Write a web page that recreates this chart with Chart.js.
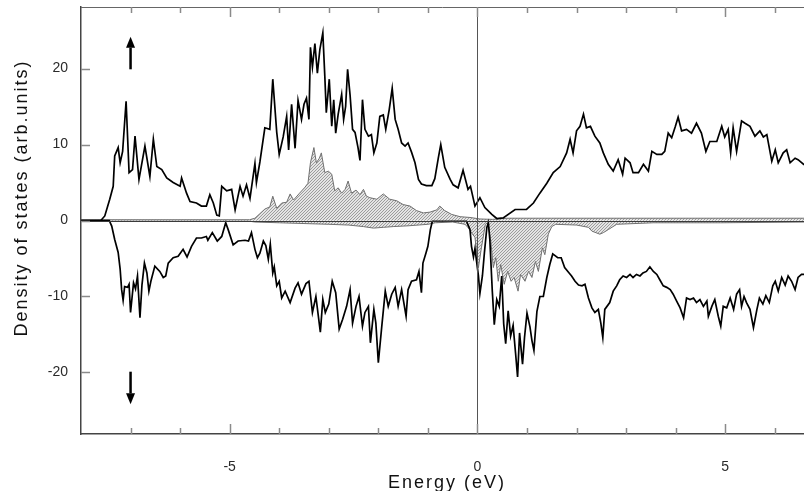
<!DOCTYPE html>
<html>
<head>
<meta charset="utf-8">
<title>Density of states</title>
<script src="https://cdn.jsdelivr.net/npm/chart.js@4.4.1/dist/chart.umd.min.js"></script>
<style>
    html, body { margin: 0; padding: 0; background: #ffffff; }
    canvas { display: block; }
</style>
</head>
<body>
<canvas id="dos" width="804" height="491"></canvas>
<script>
// Total DOS, spin up (energy in eV, states in arb. units)
const upE = [-8.00, -7.60, -7.52, -7.42, -7.35, -7.32, -7.25, -7.21, -7.16, -7.09, -7.03, -6.96, -6.91, -6.83, -6.71, -6.61,
    -6.54, -6.47, -6.37, -6.27, -6.14, -6.00, -5.97, -5.87, -5.80, -5.67, -5.57, -5.47, -5.40, -5.33, -5.26, -5.21,
    -5.16, -5.06, -4.96, -4.89, -4.79, -4.73, -4.66, -4.59, -4.49, -4.46, -4.39, -4.29, -4.19, -4.13, -4.05, -4.00,
    -3.92, -3.85, -3.81, -3.75, -3.68, -3.62, -3.55, -3.50, -3.45, -3.40, -3.37, -3.33, -3.28, -3.23, -3.18, -3.12,
    -3.08, -3.05, -2.99, -2.94, -2.90, -2.86, -2.81, -2.74, -2.70, -2.66, -2.62, -2.57, -2.52, -2.47, -2.41, -2.37,
    -2.32, -2.27, -2.20, -2.14, -2.09, -2.03, -1.97, -1.90, -1.85, -1.78, -1.72, -1.66, -1.60, -1.53, -1.46, -1.40,
    -1.33, -1.26, -1.19, -1.13, -1.03, -0.92, -0.86, -0.79, -0.74, -0.66, -0.55, -0.49, -0.39, -0.29, -0.19, -0.14,
    -0.05, 0.05, 0.15, 0.29, 0.39, 0.52, 0.76, 0.99, 1.13, 1.26, 1.40, 1.53, 1.67, 1.80, 1.87, 1.93,
    2.00, 2.07, 2.14, 2.20, 2.28, 2.37, 2.47, 2.54, 2.64, 2.74, 2.84, 2.93, 2.98, 3.08, 3.14, 3.25,
    3.35, 3.45, 3.52, 3.62, 3.72, 3.78, 3.85, 3.92, 3.99, 4.05, 4.12, 4.22, 4.32, 4.42, 4.52, 4.61,
    4.69, 4.83, 4.93, 4.99, 5.06, 5.11, 5.16, 5.23, 5.33, 5.40, 5.50, 5.60, 5.70, 5.77, 5.84, 5.94,
    6.01, 6.07, 6.17, 6.24, 6.31, 6.41, 6.47, 6.58, 6.62];
const upDos = [0, 0, 0.6, 2.8, 4.5, 8.5, 9.6, 7.6, 9.1, 15.7, 6.3, 6.7, 11.1, 5.4, 9.8, 5.8,
    10.7, 7.1, 6.7, 5.6, 5.0, 4.5, 5.6, 3.6, 2.5, 2.3, 1.9, 1.9, 3.4, 2.3, 0.7, 0.6,
    4.5, 3.9, 4.1, 1.4, 4.5, 3.2, 4.7, 2.9, 7.5, 5.0, 7.7, 12.2, 12.0, 18.6, 11.6, 8.7,
    11.0, 13.7, 9.3, 15.3, 9.5, 15.8, 13.3, 15.3, 16.1, 13.3, 22.8, 20.2, 23.3, 19.4, 22.5, 24.7,
    19.0, 14.2, 18.6, 12.4, 15.9, 11.5, 14.0, 16.6, 13.3, 15.0, 19.9, 16.5, 12.0, 11.6, 9.6, 7.9,
    15.9, 12.0, 11.1, 11.3, 8.9, 10.2, 13.7, 13.9, 12.0, 14.6, 17.4, 13.3, 12.0, 10.2, 9.8, 10.2,
    9.0, 7.6, 5.4, 4.8, 4.6, 4.6, 5.5, 8.2, 10.0, 7.0, 5.4, 4.7, 4.3, 6.6, 4.1, 4.5,
    1.9, 3.0, 1.7, 0.8, 0.26, 0.35, 1.45, 1.45, 2.3, 3.6, 4.9, 6.3, 7.1, 8.9, 10.7, 8.9,
    11.8, 12.4, 14.0, 12.2, 12.4, 11.1, 10.2, 8.9, 7.4, 6.5, 8.0, 6.1, 8.2, 7.6, 6.3, 6.3,
    7.4, 6.5, 9.1, 8.7, 8.7, 9.1, 11.5, 10.9, 12.3, 13.6, 11.8, 12.0, 11.5, 12.8, 11.5, 9.1,
    10.4, 10.4, 12.4, 11.0, 12.0, 8.9, 12.2, 9.1, 13.1, 12.8, 12.4, 11.1, 11.8, 11.0, 11.3, 7.8,
    9.3, 7.6, 8.9, 9.3, 7.6, 8.2, 8.0, 7.4, 7.3];

// Total DOS, spin down
const dnE = [-8.00, -7.43, -7.38, -7.32, -7.25, -7.21, -7.18, -7.15, -7.12, -7.06, -7.03, -7.00, -6.94, -6.90, -6.86, -6.81,
    -6.77, -6.72, -6.67, -6.63, -6.59, -6.51, -6.41, -6.34, -6.29, -6.24, -6.14, -6.04, -5.94, -5.86, -5.77, -5.67,
    -5.57, -5.47, -5.44, -5.35, -5.25, -5.16, -5.08, -5.03, -4.93, -4.83, -4.69, -4.62, -4.56, -4.49, -4.44, -4.39,
    -4.32, -4.27, -4.22, -4.18, -4.13, -4.10, -4.05, -4.00, -3.95, -3.88, -3.78, -3.68, -3.62, -3.55, -3.46, -3.40,
    -3.33, -3.26, -3.17, -3.12, -3.07, -3.00, -2.93, -2.86, -2.79, -2.72, -2.64, -2.57, -2.52, -2.45, -2.39, -2.32,
    -2.27, -2.20, -2.16, -2.09, -2.05, -2.00, -1.93, -1.86, -1.80, -1.73, -1.66, -1.60, -1.53, -1.44, -1.40, -1.33,
    -1.23, -1.18, -1.13, -1.10, -1.04, -1.00, -0.95, -0.91, -0.85, -0.22, -0.15, -0.12, -0.08, -0.05, 0.02, 0.05,
    0.10, 0.14, 0.19, 0.22, 0.25, 0.30, 0.34, 0.39, 0.44, 0.49, 0.53, 0.57, 0.62, 0.67, 0.72, 0.77,
    0.81, 0.85, 0.91, 0.95, 1.00, 1.06, 1.10, 1.14, 1.20, 1.26, 1.33, 1.40, 1.46, 1.52, 1.62, 1.69,
    1.76, 1.85, 1.90, 1.97, 2.04, 2.11, 2.17, 2.24, 2.31, 2.37, 2.44, 2.49, 2.53, 2.57, 2.67, 2.74,
    2.81, 2.87, 2.94, 3.01, 3.08, 3.14, 3.21, 3.28, 3.34, 3.41, 3.48, 3.55, 3.62, 3.68, 3.75, 3.82,
    3.89, 3.95, 4.02, 4.09, 4.16, 4.22, 4.29, 4.36, 4.42, 4.49, 4.56, 4.63, 4.66, 4.73, 4.79, 4.86,
    4.91, 4.96, 5.03, 5.10, 5.17, 5.23, 5.29, 5.33, 5.38, 5.43, 5.50, 5.57, 5.64, 5.69, 5.76, 5.82,
    5.89, 5.96, 6.01, 6.07, 6.14, 6.21, 6.27, 6.34, 6.41, 6.47, 6.54, 6.62];
const dnDos = [0, 0, -0.74, -2.5, -4.2, -6.4, -9.1, -10.5, -8.7, -8.8, -8.4, -12.1, -8.2, -9.0, -7.3, -12.8,
    -8.5, -5.6, -6.9, -9.3, -8.0, -6.0, -6.7, -7.5, -7.3, -5.6, -4.9, -4.7, -3.8, -4.8, -3.4, -2.3,
    -2.3, -2.1, -2.6, -1.6, -2.7, -2.1, -0.3, -1.2, -3.2, -2.7, -2.6, -2.7, -1.6, -3.8, -4.9, -4.3,
    -2.7, -3.3, -5.1, -3.1, -6.9, -6.1, -8.6, -8.0, -10.2, -9.3, -10.8, -8.9, -8.2, -9.7, -8.3, -8.0,
    -12.1, -10.0, -14.7, -10.4, -12.1, -11.0, -8.0, -9.5, -14.3, -13.0, -11.3, -9.1, -13.5, -11.3, -10.0, -13.9,
    -12.1, -11.3, -16.1, -11.7, -13.5, -18.7, -13.9, -9.3, -11.3, -9.7, -8.8, -11.3, -9.1, -12.6, -9.1, -8.0,
    -7.8, -6.7, -9.5, -5.6, -4.3, -3.4, -1.2, -0.1, -0.1, -0.1, -1.2, -3.4, -4.8, -3.7, -7.3, -9.6,
    -7.3, -4.3, -0.9, -0.3, -2.5, -9.3, -13.7, -10.4, -11.3, -7.3, -13.6, -16.2, -11.9, -15.2, -13.8, -17.5,
    -20.6, -14.8, -18.9, -15.4, -12.2, -14.0, -15.8, -17.1, -12.0, -10.0, -10.0, -7.5, -5.8, -4.4, -4.9, -4.9,
    -6.2, -6.9, -7.3, -8.0, -8.5, -8.6, -8.4, -10.2, -11.5, -12.1, -11.7, -13.5, -15.4, -11.7, -10.8, -9.3,
    -8.6, -7.8, -7.3, -7.5, -7.1, -7.5, -7.1, -7.3, -6.9, -6.7, -6.1, -6.7, -7.1, -7.8, -8.6, -8.8,
    -9.1, -9.7, -10.6, -11.5, -12.8, -10.2, -10.4, -10.2, -10.8, -10.4, -11.3, -10.6, -12.6, -11.3, -10.4, -12.6,
    -13.9, -11.3, -11.5, -10.2, -11.7, -9.7, -9.1, -11.3, -10.0, -10.8, -11.7, -14.1, -11.7, -10.2, -11.0, -9.9,
    -10.8, -8.6, -8.0, -9.3, -7.5, -8.5, -7.3, -8.0, -9.1, -7.5, -7.1, -7.1];

// Partial DOS (shaded), spin up
const pUpE = [-8.00, -4.60, -4.49, -4.39, -4.29, -4.19, -4.13, -4.05, -3.95, -3.85, -3.78, -3.71, -3.59, -3.49, -3.42, -3.37,
    -3.30, -3.25, -3.19, -3.15, -3.08, -3.01, -2.94, -2.88, -2.81, -2.74, -2.67, -2.61, -2.54, -2.45, -2.37, -2.30,
    -2.24, -2.17, -2.03, -1.90, -1.77, -1.63, -1.50, -1.36, -1.23, -1.09, -0.96, -0.82, -0.76, -0.66, -0.52, -0.35,
    -0.15, 0.05, 0.30, 0.60, 1.50, 3.00, 6.62];
const pUpDos = [0.1, 0.1, 0.3, 0.9, 1.5, 1.8, 3.2, 1.6, 2.3, 2.4, 3.5, 2.7, 3.6, 4.3, 4.9, 7.6,
    9.6, 7.6, 8.2, 8.9, 6.3, 6.5, 6.1, 3.9, 4.3, 3.6, 4.1, 5.2, 3.6, 4.0, 3.4, 4.1,
    3.2, 3.0, 2.8, 3.5, 2.8, 2.6, 2.1, 1.9, 1.3, 1.0, 1.1, 1.4, 1.9, 1.3, 0.8, 0.5,
    0.4, 0.2, 0.15, 0.3, 0.3, 0.3, 0.3];

// Partial DOS (shaded), spin down
const pDnE = [-8.00, -4.60, -4.49, -4.00, -3.50, -3.00, -2.60, -2.30, -2.10, -1.90, -1.70, -1.40, -1.00, -0.85, -0.50, -0.25,
    -0.18, -0.10, -0.05, 0.02, 0.08, 0.16, 0.21, 0.27, 0.32, 0.37, 0.42, 0.47, 0.54, 0.61, 0.68, 0.74,
    0.82, 0.87, 0.96, 1.03, 1.10, 1.17, 1.23, 1.31, 1.36, 1.43, 1.50, 1.58, 2.00, 2.24, 2.31, 2.47,
    2.54, 2.64, 2.81, 3.55, 4.90, 6.62];
const pDnDos = [-0.1, -0.1, -0.2, -0.3, -0.4, -0.5, -0.6, -0.8, -1.0, -0.9, -0.8, -0.7, -0.5, -0.3, -0.2, -0.5,
    -1.0, -1.8, -2.2, -6.2, -3.6, -0.5, -0.3, -2.7, -6.2, -4.9, -8.0, -5.8, -8.4, -6.7, -8.0, -7.5,
    -9.3, -7.1, -8.0, -6.7, -7.5, -5.4, -6.7, -3.6, -4.5, -1.8, -0.8, -0.5, -0.6, -0.9, -1.4, -1.8,
    -1.6, -1.2, -0.5, -0.3, -0.3, -0.2];

// Axis ticks
const xTicks = [-5, 0, 5];
const xMinorTicks = [-7, -6, -4, -3, -2, -1, 1, 2, 3, 4, 6];
const yTicks = [-20, -10, 0, 10, 20];

// Spin arrows (energy, from, to)
const arrowE = -7;
const upArrow = [19.9, 24.2];
const downArrow = [-19.9, -24.2];

const FONT = '"Liberation Sans", Arial, Helvetica, sans-serif';

function toPoints(es, vs) {
    return es.map((e, i) => ({ x: e, y: vs[i] }));
}

/**
 * Light grey diagonal hatching used for the partial DOS
 */
function makeHatch(ctx) {
    const c = document.createElement('canvas');
    c.width = 3;
    c.height = 3;
    const g = c.getContext('2d');
    g.fillStyle = '#e4e4e4';
    g.fillRect(0, 0, 3, 3);
    g.fillStyle = '#9c9c9c';
    for (let i = 0; i < 3; i++) g.fillRect(i, 2 - i, 1, 1);
    return ctx.createPattern(c, 'repeat');
}

function drawArrow(ctx, px, yFrom, yTo) {
    const dir = yTo < yFrom ? -1 : 1;
    const head = 11;
    ctx.lineWidth = 2.5;
    ctx.beginPath();
    ctx.moveTo(px, yFrom);
    ctx.lineTo(px, yTo - dir * head);
    ctx.stroke();
    ctx.beginPath();
    ctx.moveTo(px, yTo);
    ctx.lineTo(px - 4.5, yTo - dir * head);
    ctx.lineTo(px + 4.5, yTo - dir * head);
    ctx.closePath();
    ctx.fill();
}

// Frame lines, inward ticks, spin arrows and axis titles
const decorPlugin = {
    id: 'decor',
    afterDatasetsDraw(chart) {
        const { ctx, chartArea: a, scales: { x, y } } = chart;
        ctx.save();

        // zero line
        const y0 = Math.round(y.getPixelForValue(0)) + 0.5;
        ctx.strokeStyle = '#3a3a3a';
        ctx.lineWidth = 1;
        ctx.beginPath();
        ctx.moveTo(a.left, y0);
        ctx.lineTo(a.right, y0);
        ctx.stroke();

        // Fermi level
        const xf = Math.round(x.getPixelForValue(0)) + 0.5;
        ctx.strokeStyle = '#555555';
        ctx.beginPath();
        ctx.moveTo(xf, a.top);
        ctx.lineTo(xf, a.bottom);
        ctx.stroke();

        // top frame
        ctx.strokeStyle = '#666666';
        ctx.beginPath();
        ctx.moveTo(a.left, a.top + 0.5);
        ctx.lineTo(a.right, a.top + 0.5);
        ctx.stroke();

        // ticks pointing inward
        ctx.strokeStyle = '#8a8a8a';
        ctx.lineWidth = 1.5;
        ctx.beginPath();
        yTicks.forEach(v => {
            const py = Math.round(y.getPixelForValue(v)) + 0.5;
            ctx.moveTo(a.left, py);
            ctx.lineTo(a.left + 9, py);
        });
        const xTickMarks = (vals, len) => vals.forEach(v => {
            const px = Math.round(x.getPixelForValue(v)) + 0.5;
            ctx.moveTo(px, a.bottom);
            ctx.lineTo(px, a.bottom - len);
            ctx.moveTo(px, a.top);
            ctx.lineTo(px, a.top + len);
        });
        xTickMarks(xTicks, 10);
        xTickMarks(xMinorTicks, 6);
        ctx.stroke();

        // spin arrows
        ctx.strokeStyle = '#000000';
        ctx.fillStyle = '#000000';
        const ax = x.getPixelForValue(arrowE);
        drawArrow(ctx, ax, y.getPixelForValue(upArrow[0]), y.getPixelForValue(upArrow[1]));
        drawArrow(ctx, ax, y.getPixelForValue(downArrow[0]), y.getPixelForValue(downArrow[1]));

        ctx.restore();
    },
    afterDraw(chart) {
        const ctx = chart.ctx;
        ctx.save();
        ctx.fillStyle = '#111111';
        ctx.font = '18px ' + FONT;
        ctx.letterSpacing = '2px';
        ctx.textAlign = 'center';
        ctx.textBaseline = 'alphabetic';
        ctx.fillText('Energy (eV)', 447, 488);

        ctx.translate(27, 198);
        ctx.rotate(-Math.PI / 2);
        ctx.fillText('Density of states (arb.units)', 0, 0);
        ctx.restore();
    }
};

const ctx = document.getElementById('dos').getContext('2d');
const hatch = makeHatch(ctx);

new Chart(ctx, {
    type: 'line',
    data: {
        datasets: [
            {
                data: toPoints(upE, upDos),
                borderColor: '#000000',
                borderWidth: 1.7,
                fill: false
            },
            {
                data: toPoints(dnE, dnDos),
                borderColor: '#000000',
                borderWidth: 1.7,
                fill: false
            },
            {
                data: toPoints(pUpE, pUpDos),
                borderColor: '#707070',
                borderWidth: 1,
                backgroundColor: hatch,
                fill: 'origin'
            },
            {
                data: toPoints(pDnE, pDnDos),
                borderColor: '#707070',
                borderWidth: 1,
                backgroundColor: hatch,
                fill: 'origin'
            }
        ]
    },
    options: {
        responsive: false,
        devicePixelRatio: 1,
        animation: false,
        events: [],
        layout: {
            padding: { top: 7, right: 0, bottom: 0, left: 0 }
        },
        elements: {
            point: { radius: 0 },
            line: { tension: 0 }
        },
        plugins: {
            legend: { display: false },
            tooltip: { enabled: false }
        },
        scales: {
            x: {
                type: 'linear',
                min: -8,
                max: 6.59,
                afterFit(scale) {
                    scale.height = 57;
                    scale.paddingLeft = 0;
                    scale.paddingRight = 0;
                },
                afterBuildTicks(scale) { scale.ticks = xTicks.map(v => ({ value: v })); },
                grid: { display: false, drawTicks: false },
                border: { display: true, color: '#444444', width: 1.5 },
                ticks: {
                    padding: 25,
                    color: '#2a2a2a',
                    font: { family: FONT, size: 14 },
                    maxRotation: 0
                }
            },
            y: {
                type: 'linear',
                min: -28.1,
                max: 28.1,
                afterFit(scale) {
                    scale.width = 81;
                    // keep the plot frame where the labels would push it
                    scale.paddingTop = 0;
                    scale.paddingBottom = 0;
                },
                afterBuildTicks(scale) { scale.ticks = yTicks.map(v => ({ value: v })); },
                grid: { display: false, drawTicks: false },
                border: { display: true, color: '#444444', width: 1.5 },
                ticks: {
                    padding: 13,
                    color: '#2a2a2a',
                    font: { family: FONT, size: 14 }
                }
            }
        }
    },
    plugins: [decorPlugin]
});
</script>
</body>
</html>
